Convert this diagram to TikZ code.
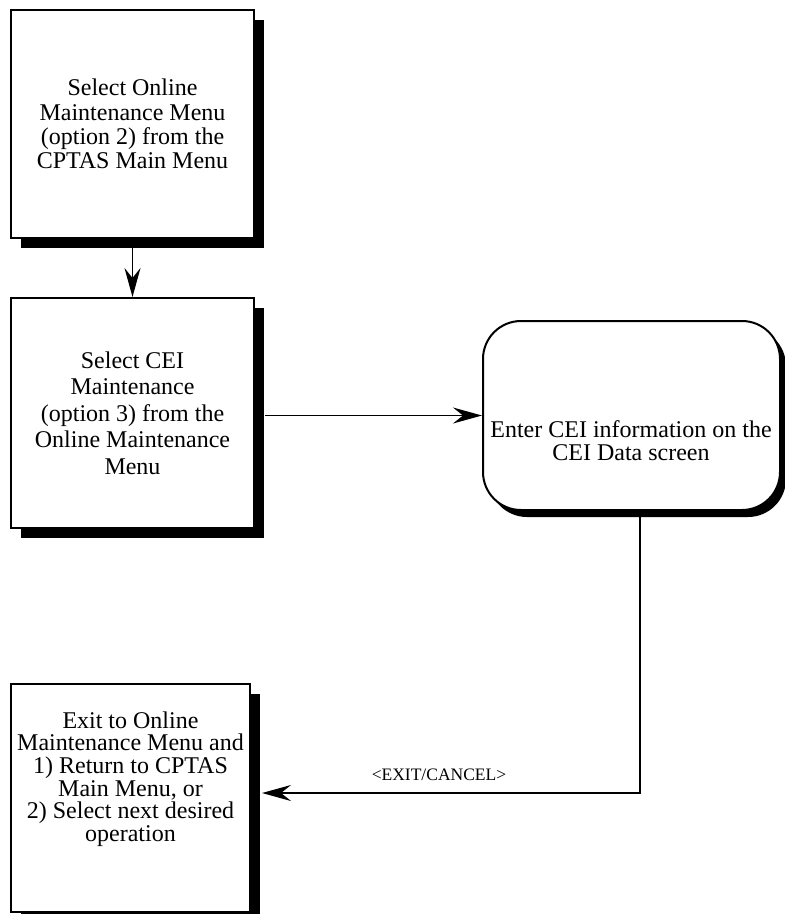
\documentclass[tikz,border=0pt]{standalone}
\usepackage{fontspec}
\setmainfont{Liberation Serif}
\usetikzlibrary{arrows.meta,shadows,calc}

\tikzset{
  stepbox/.style={draw, line width=2pt, fill=white, inner sep=0pt,
    drop shadow={shadow xshift=10pt, shadow yshift=-10pt, opacity=1, fill=black}},
  roundbox/.style={draw, line width=2pt, fill=white, inner sep=0pt,
    rounded corners=38pt,
    drop shadow={shadow xshift=6pt, shadow yshift=-7pt, opacity=1, fill=black}},
  boxtext/.style={align=center, inner sep=0pt},
  arr/.style={line width=1.9pt, -{Stealth[length=29pt, width=16pt, inset=10pt]}},
  exitlabel/.style={inner sep=0pt, font=\fontsize{17.5}{18}\selectfont},
}

\begin{document}
\begin{tikzpicture}[x=1pt, y=-1pt]
  \useasboundingbox (0,0) rectangle (785,914);

  % step boxes of the left column
  \node[stepbox, boxtext, minimum width=243pt, minimum height=228pt,
        font=\fontsize{24}{24.4}\selectfont] (menu) at (132.5,124)
    {Select Online\\Maintenance Menu\\(option 2) from the\\CPTAS Main Menu};

  \node[stepbox, boxtext, minimum width=243pt, minimum height=230pt,
        font=\fontsize{24}{26.5}\selectfont] (cei) at (132.5,413)
    {Select CEI\\Maintenance\\(option 3) from the\\Online Maintenance\\Menu};

  \node[stepbox, minimum width=239pt, minimum height=228pt] (exit) at (130.5,798) {};
  \node[boxtext, font=\fontsize{24}{22.7}\selectfont] (exittext) at (130.5,779)
    {Exit to Online\\Maintenance Menu and\\1) Return to CPTAS\\Main Menu, or\\2) Select next desired\\operation};

  % data entry step
  \node[roundbox, minimum width=297pt, minimum height=189pt] (enter) at (631.5,415.5) {};
  \node[boxtext, font=\fontsize{24}{23}\selectfont] (entertext) at (631,441)
    {Enter CEI information on the\\CEI Data screen};

  % connectors
  \draw[arr] (menu.south) -- (cei.north);
  \draw[arr] ([xshift=10pt]cei.east |- enter.west) -- (enter.west);
  \coordinate (turn) at (640,793);
  \draw[arr] (enter.south -| turn) -- (turn) -- ([xshift=11pt]exit.east |- turn);
  \node[exitlabel] (exitlbl) at (439,775) {<EXIT/CANCEL>};
\end{tikzpicture}
\end{document}
